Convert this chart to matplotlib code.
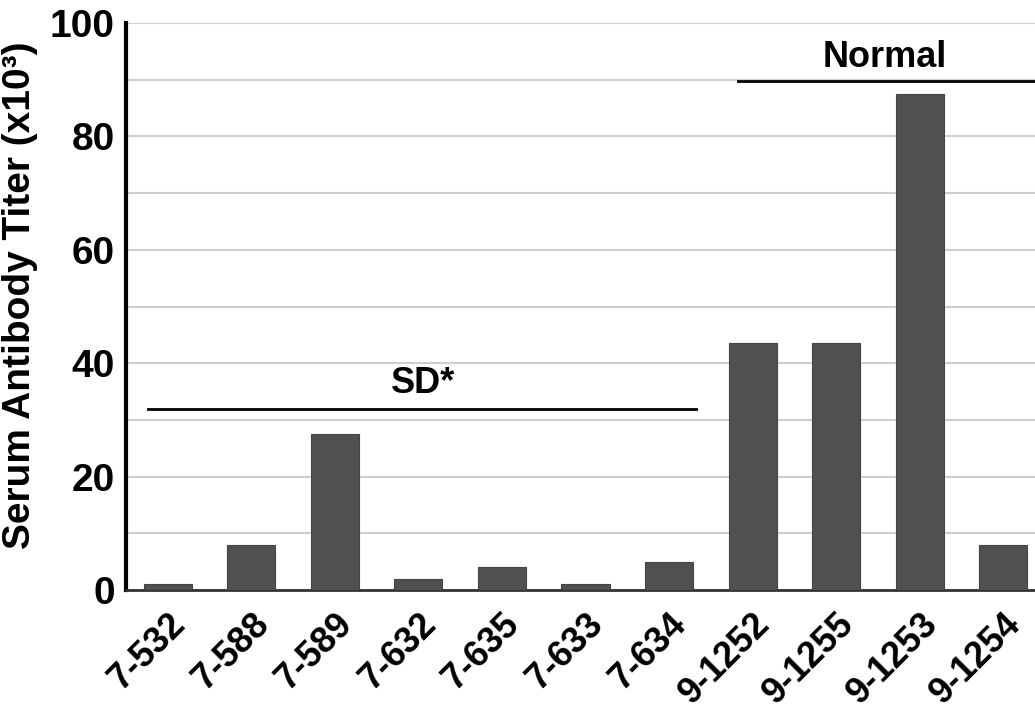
import matplotlib
matplotlib.use("Agg")
import matplotlib.pyplot as plt
import numpy as np

categories = ["7-532", "7-588", "7-589", "7-632", "7-635", "7-633", "7-634",
              "9-1252", "9-1255", "9-1253", "9-1254"]
titers = [1, 8, 27.5, 2, 4, 1, 5, 43.5, 43.5, 87.5, 8]
yticks = [0, 20, 40, 60, 80, 100]

plt.rcParams['font.family'] = ['Liberation Sans', 'DejaVu Sans']
plt.rcParams['font.weight'] = 'bold'

fig = plt.figure(figsize=(10.35, 7.16), dpi=100)
ax = fig.add_axes([126/1035, 1-590/716, (1045-126)/1035, (590-23)/716])

x = np.arange(len(categories))
ax.bar(x, titers, width=0.575, color='#505050', edgecolor='#444444', linewidth=0.8, zorder=3)

ax.set_xlim(-0.5, len(categories) - 0.5)
ax.set_ylim(0, 100)
ax.set_yticks(yticks)
ax.set_yticklabels([str(t) for t in yticks], fontsize=28, fontweight='bold')
ax.set_yticks(np.arange(10, 100, 20), minor=True)
ax.grid(axis='y', which='both', color='#cfcfcf', linewidth=1.5, zorder=0)
ax.set_axisbelow(True)
ax.tick_params(axis='both', which='both', length=0)
ax.tick_params(axis='y', pad=8)

ax.set_xticks(x)
ax.set_xticklabels(categories, rotation=45, ha='right', rotation_mode='anchor',
                   fontsize=26, fontweight='bold')
ax.tick_params(axis='x', pad=12)

for s in ['top', 'right']:
    ax.spines[s].set_visible(False)
ax.spines['left'].set_linewidth(3)
ax.spines['left'].set_color('black')
ax.spines['bottom'].set_linewidth(2)
ax.spines['bottom'].set_color('#333333')

ax.set_ylabel("Serum Antibody Titer (x10³)", fontsize=28, fontweight='bold')
ax.yaxis.set_label_coords(-88/919, 0.52)

# group annotations
ax.plot([-0.24, 6.32], [32, 32], color='black', linewidth=2, clip_on=False, zorder=4)
ax.text(3.05, 33.3, "SD*", ha='center', va='bottom', fontsize=26, fontweight='bold')
ax.plot([6.83, 10.5], [89.7, 89.7], color='black', linewidth=2, clip_on=False, zorder=4)
ax.text(8.58, 90.8, "Normal", ha='center', va='bottom', fontsize=26, fontweight='bold')

fig.savefig("out.png", dpi=100)
